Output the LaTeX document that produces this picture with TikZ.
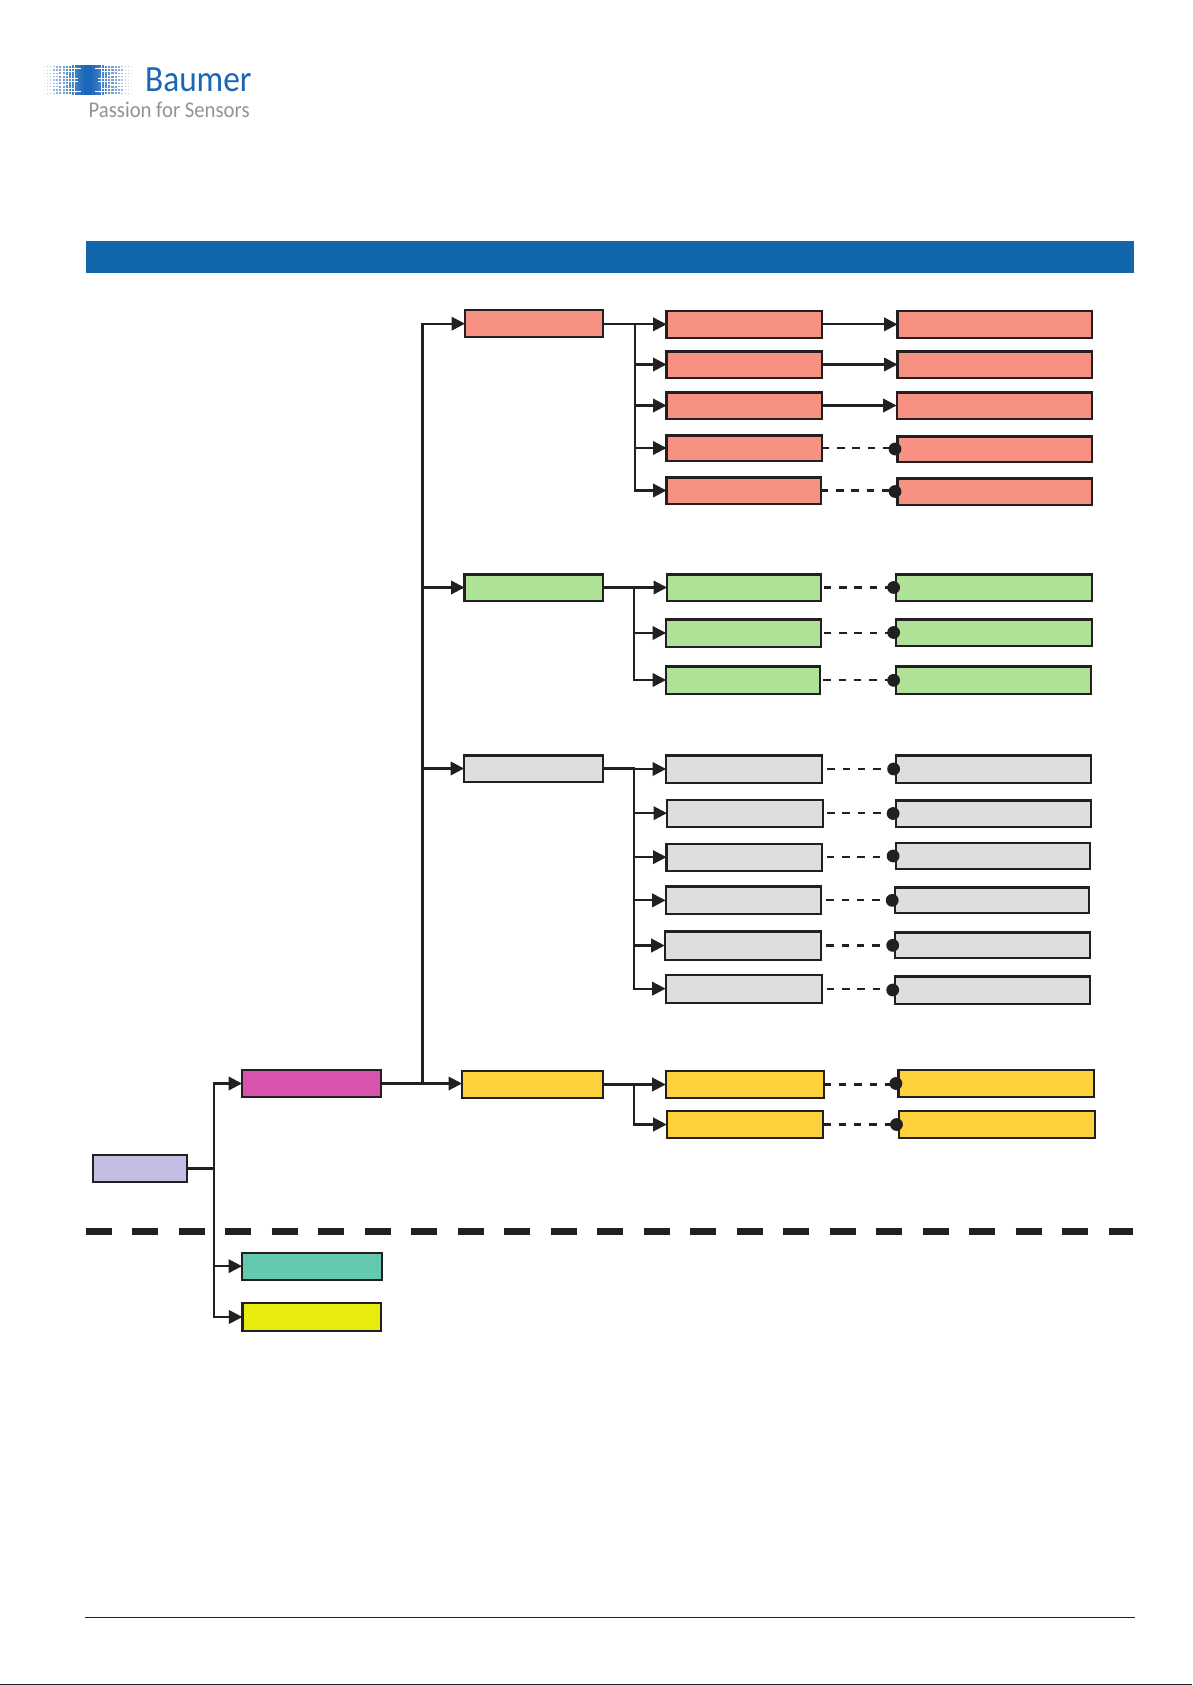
\documentclass[tikz,border=0pt]{standalone}
\usepackage{fontspec}
\setmainfont{Carlito}
\newfontfamily\logoa[FakeStretch=0.9]{Carlito}
\newfontfamily\logob[FakeStretch=0.92]{Carlito}
\usetikzlibrary{arrows.meta,calc}
\definecolor{ink}{HTML}{231F20}
\definecolor{bblue}{HTML}{1166AC}
\definecolor{lblue}{HTML}{1A66B8}
\definecolor{cred}{HTML}{F79181}
\definecolor{cgreen}{HTML}{ADE297}
\definecolor{cgray}{HTML}{DEDEDE}
\definecolor{cyel}{HTML}{FCD13C}
\definecolor{cmag}{HTML}{D853AD}
\definecolor{cpur}{HTML}{C3BEE4}
\definecolor{cteal}{HTML}{63CAB0}
\definecolor{clime}{HTML}{E7EC0E}
\tikzset{
  wbox/.style={draw=ink,line width=2.2pt,rectangle,inner sep=0pt,outer sep=0pt},
  wire/.style={draw=ink,line width=2.2pt},
  arr/.style={wire,-{Triangle[length=13.5pt,width=13.5pt]}},
  dashwire/.style={draw=ink,line width=2.2pt,dash pattern=on 7.5pt off 7.8pt},
  dotn/.style={circle,fill=ink,inner sep=0pt,outer sep=0pt,minimum size=12.8pt},
}
% name, x1, y1, x2, y2, colour
\newcommand{\bx}[6]{%
  \pgfmathsetmacro{\cxx}{(#2+#4)/2}\pgfmathsetmacro{\cyy}{(#3+#5)/2}%
  \pgfmathsetmacro{\wdd}{#4-#2-1.4}\pgfmathsetmacro{\htt}{#5-#3-1.4}%
  \node[wbox,fill=#6,minimum width=\wdd pt,minimum height=\htt pt] (#1) at (\cxx,\cyy) {};}
\begin{document}
\begin{tikzpicture}[x=1pt,y=-1pt]
\useasboundingbox (0,0) rectangle (1192,1685);
% logo dots
\foreach \c in {0,...,13}{\foreach \r in {0,...,8}{
  \pgfmathsetmacro{\sz}{0.7+2.9*(\c/13)}
  \pgfmathsetmacro{\op}{0.12+0.88*(\c/13)^0.7}
  \pgfmathsetmacro{\xl}{44.5+\c*3.17}
  \pgfmathsetmacro{\xr}{131.5-\c*3.17}
  \pgfmathsetmacro{\yy}{66.8+\r*3.3}
  \fill[lblue,opacity=\op] (\xl-\sz/2,\yy-\sz/2) rectangle (\xl+\sz/2,\yy+\sz/2);
  \fill[lblue,opacity=\op] (\xr-\sz/2,\yy-\sz/2) rectangle (\xr+\sz/2,\yy+\sz/2);
}}
\node[anchor=base west,inner sep=0pt,text=lblue,font=\logoa\fontsize{37}{37}\selectfont] (logoa) at (145,91.7) {Baumer};
\node[anchor=base west,inner sep=0pt,text=gray!85,font=\logob\fontsize{22.5}{22.5}\selectfont] (logob) at (88.5,118) {Passion for Sensors};
% header bar
\fill[bblue] (86,241) rectangle (1134,273);
% separators
\draw[ink,line width=6.7pt,dash pattern=on 26pt off 20.5pt] (85.9,1231.7) -- (1133,1231.7);
\draw[ink,line width=1.4pt] (85,1617.3) -- (1134.6,1617.3);
\draw[ink,line width=1.4pt] (0,1684.5) -- (1192,1684.5);
% level 1 / 2
\bx{root}{92.6}{1154.3}{187.7}{1182.7}{cpur}
\bx{mag}{241.3}{1069.3}{381.4}{1097.7}{cmag}
\bx{teal}{241.3}{1252}{382.3}{1280.3}{cteal}
\bx{lime}{241.7}{1302.3}{381.4}{1331.7}{clime}
\bx{r0}{464.3}{309.7}{603.4}{337.7}{cred}
\bx{g0}{463.8}{573.7}{603.4}{601.3}{cgreen}
\bx{s0}{463.4}{754.7}{603.4}{782.3}{cgray}
\bx{y0}{461.3}{1070.3}{603.3}{1098.7}{cyel}
% red column
\bx{r1}{665.8}{310}{822.4}{338.7}{cred}
\bx{r2}{665.8}{350.7}{822.4}{378.3}{cred}
\bx{r3}{665.8}{391.7}{822.4}{419.3}{cred}
\bx{r4}{665.8}{434.7}{822.4}{461.3}{cred}
\bx{r5}{665.8}{476.7}{821.5}{504.3}{cred}
\bx{R1}{896.8}{310}{1092.8}{338.7}{cred}
\bx{R2}{896.8}{350.7}{1092.8}{378.3}{cred}
\bx{R3}{895.9}{391.7}{1092.4}{419.3}{cred}
\bx{R4}{896.8}{435.7}{1092.8}{462.3}{cred}
\bx{R5}{896.8}{477.7}{1092.4}{505.3}{cred}
% green column
\bx{g1}{666.3}{573.7}{821.5}{601.3}{cgreen}
\bx{g2}{665.4}{618.7}{821.5}{647.3}{cgreen}
\bx{g3}{665.4}{665.7}{821}{694.3}{cgreen}
\bx{G1}{895.4}{573.7}{1092.8}{601.3}{cgreen}
\bx{G2}{895.4}{618.7}{1092.8}{646.3}{cgreen}
\bx{G3}{895.4}{665.7}{1092}{695}{cgreen}
% gray column
\bx{s1}{665.4}{754.7}{822.9}{783.3}{cgray}
\bx{s2}{666.3}{799}{823.8}{827.3}{cgray}
\bx{s3}{665.8}{843}{822.4}{871.3}{cgray}
\bx{s4}{664.9}{885.7}{822}{915}{cgray}
\bx{s5}{664}{930.7}{822}{960.3}{cgray}
\bx{s6}{664.9}{974}{822.4}{1003.3}{cgray}
\bx{S1}{895.4}{754.7}{1091.5}{783.3}{cgray}
\bx{S2}{894.9}{799.7}{1091.5}{827.3}{cgray}
\bx{S3}{894.9}{842}{1091}{870}{cgray}
\bx{S4}{894}{886.7}{1090}{914}{cgray}
\bx{S5}{894.5}{931.7}{1090.5}{959}{cgray}
\bx{S6}{894.5}{975.7}{1090.5}{1004.3}{cgray}
% yellow column
\bx{y1}{665}{1070.3}{824.3}{1098.7}{cyel}
\bx{y2}{666}{1110.3}{824}{1138.7}{cyel}
\bx{Y1}{897.7}{1069.3}{1094.7}{1097.7}{cyel}
\bx{Y2}{898.3}{1110.3}{1095.3}{1138.7}{cyel}
% junctions
\coordinate (rootj) at (214,1168.5);
\coordinate (trunk) at (422.5,1083);
\coordinate (jr) at (634.6,323.7);
\coordinate (jg) at (633.7,587);
\coordinate (js) at (633.7,768.7);
\coordinate (jy) at (634.3,1083.7);
% root tree
\draw[wire] (root.east) -- (rootj);
\draw[arr] (rootj) -- (rootj |- mag.west) -- (mag.west);
\draw[arr] (rootj) -- (rootj |- teal.west) -- (teal.west);
\draw[arr] (rootj) -- (rootj |- lime.west) -- (lime.west);
% trunk
\draw[arr] (mag.east) -- (mag.east -| y0.west);
\draw[arr] (trunk) -- (trunk |- r0.west) -- (r0.west);
\draw[arr] (trunk |- g0.west) -- (g0.west);
\draw[arr] (trunk |- s0.west) -- (s0.west);
% branches
\foreach \p/\j/\n in {r/jr/1,r/jr/2,r/jr/3,r/jr/4,r/jr/5,g/jg/1,g/jg/2,g/jg/3,s/js/1,s/js/2,s/js/3,s/js/4,s/js/5,s/js/6,y/jy/1,y/jy/2}{
  \draw[arr] (\j |- \p\n.west) -- (\p\n.west);
}
\draw[wire] (r0.east) -- (r0.east -| jr);
\draw[wire,line cap=rect] (jr |- r0.east) -- (jr |- r5.west);
\draw[wire] (g0.east) -- (g0.east -| jg);
\draw[wire,line cap=rect] (jg |- g0.east) -- (jg |- g3.west);
\draw[wire] (s0.east) -- (s0.east -| js);
\draw[wire,line cap=rect] (js |- s0.east) -- (js |- s6.west);
\draw[wire] (y0.east) -- (y0.east -| jy);
\draw[wire,line cap=rect] (jy |- y0.east) -- (jy |- y2.west);
% solid links
\draw[arr] (r1.east) -- (r1.east -| R1.west);
\draw[arr] (r2.east) -- (r2.east -| R2.west);
\draw[arr] (r3.east) -- (r3.east -| R3.west);
% dashed links
\foreach \a/\b/\sh in {r4/R4/0,r5/R5/0,g1/G1/3,g2/G2/3,g3/G3/3,s1/S1/5,s2/S2/4,s3/S3/5,s4/S4/5,s5/S5/5,s6/S6/5,y1/Y1/0,y2/Y2/0}{
  \node[dotn,xshift=-2.5pt] (dot\b) at (\b.west) {};
  \draw[dashwire,shorten <=\sh pt] (\a.east) -- (\a.east -| dot\b.center);
}
\end{tikzpicture}
\end{document}
